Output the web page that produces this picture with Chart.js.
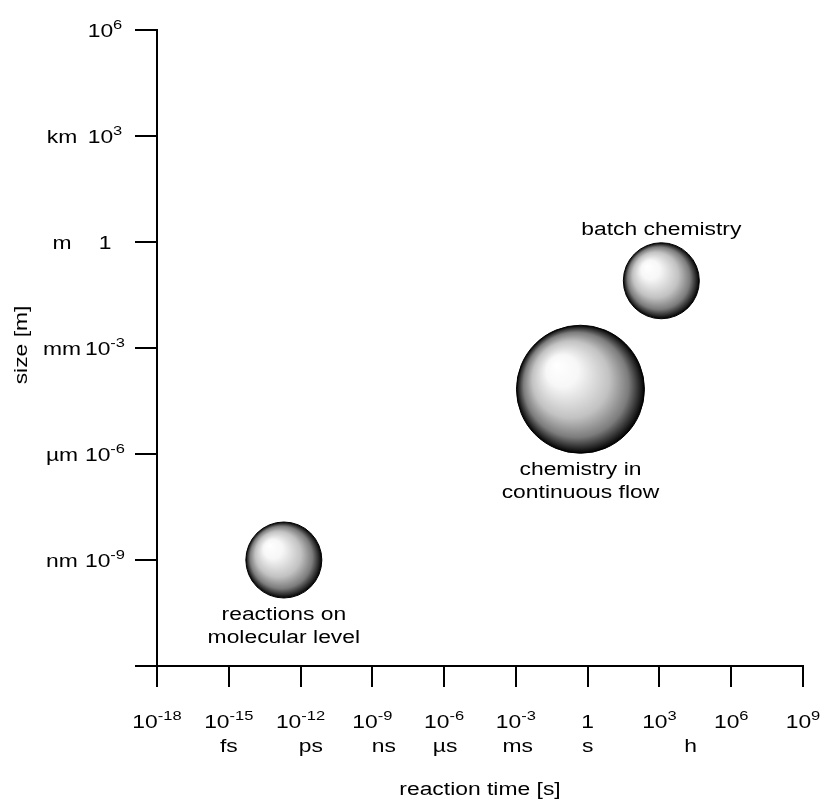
<!DOCTYPE html>
<html>
<head>
<meta charset="utf-8">
<script src="https://cdn.jsdelivr.net/npm/chart.js@4.4.1/dist/chart.umd.min.js"></script>
<style>
  body { margin: 0; background: #fff; }
</style>
</head>
<body>
<canvas id="chart" width="823" height="803"></canvas>
<script>
// axis ticks
const xTickValues = [1e-18, 1e-15, 1e-12, 1e-9, 1e-6, 1e-3, 1, 1e3, 1e6, 1e9];
const xTickLabels = ['10^-18', '10^-15', '10^-12', '10^-9', '10^-6', '10^-3', '1', '10^3', '10^6', '10^9'];
const xUnitValues = [1e-15, 2.7e-12, 3e-9, 1.1e-6, 1.2e-3, 1, 2e4];
const xUnitLabels = ['fs', 'ps', 'ns', 'µs', 'ms', 's', 'h'];
const yTickValues = [1e6, 1e3, 1, 1e-3, 1e-6, 1e-9, 1e-12];
const yTickLabels = ['10^6', '10^3', '1', '10^-3', '10^-6', '10^-9', ''];
const yUnitLabels = ['', 'km', 'm', 'mm', 'µm', 'nm', ''];

// bubbles
const processNames = [['reactions on', 'molecular level'], ['chemistry in', 'continuous flow'], ['batch chemistry']];
const reactionTime = [2e-13, 0.5, 1.2e3];
const size = [1e-9, 6.8e-5, 0.08];
const bubbleRadius = [38, 64, 38];
const labelAbove = [false, false, true];

const FONT = '"Liberation Sans", Arial, sans-serif';
const SX = 1.27; // glyphs in the picture are drawn wide

function textWidth(ctx, s, px) {
    ctx.font = px + 'px ' + FONT;
    return ctx.measureText(s).width * SX;
}

function drawPlain(ctx, s, x, y, px) {
    ctx.save();
    ctx.font = px + 'px ' + FONT;
    ctx.textAlign = 'left';
    ctx.textBaseline = 'alphabetic';
    ctx.translate(x, y);
    ctx.scale(SX, 1);
    ctx.fillText(s, 0, 0);
    ctx.restore();
}

// centred label, with optional superscript after '^'
function drawLabel(ctx, label, cx, baseline) {
    const parts = label.split('^');
    const base = parts[0], sup = parts[1] || '';
    const wb = textWidth(ctx, base, 18);
    const ws = sup ? textWidth(ctx, sup, 13) : 0;
    const x0 = cx - (wb + ws) / 2;
    drawPlain(ctx, base, x0, baseline, 18);
    if (sup) drawPlain(ctx, sup, x0 + wb, baseline - 8, 13);
}

function sphereFill(c) {
    const raw = c.raw;
    if (c.type !== 'data' || !raw) return '#999';
    const chart = c.chart;
    const cx = chart.scales.x.getPixelForValue(raw.x);
    const cy = chart.scales.y.getPixelForValue(raw.y);
    const r = raw.r;
    if (!isFinite(cx) || !isFinite(cy) || !isFinite(r)) return '#999';
    const g = chart.ctx.createRadialGradient(cx - 0.38 * r, cy - 0.38 * r, 0, cx, cy, r);
    g.addColorStop(0, '#ffffff');
    g.addColorStop(0.25, '#f7f7f7');
    g.addColorStop(0.6, '#c2c2c2');
    g.addColorStop(0.82, '#7c7c7c');
    g.addColorStop(0.94, '#2a2a2a');
    g.addColorStop(1, '#000000');
    return g;
}

const textPlugin = {
    id: 'texts',
    afterDraw(chart) {
        const ctx = chart.ctx;
        const xs = chart.scales.x, ys = chart.scales.y;
        const area = chart.chartArea;
        ctx.save();
        ctx.fillStyle = '#000';

        xTickValues.forEach((v, i) => drawLabel(ctx, xTickLabels[i], xs.getPixelForValue(v), area.bottom + 62));
        xUnitValues.forEach((v, i) => drawLabel(ctx, xUnitLabels[i], xs.getPixelForValue(v), area.bottom + 86));

        yTickValues.forEach((v, i) => {
            const py = ys.getPixelForValue(v);
            if (yTickLabels[i]) drawLabel(ctx, yTickLabels[i], 105, py + 7);
            if (yUnitLabels[i]) drawLabel(ctx, yUnitLabels[i], 62, py + 7);
        });

        // axis titles
        drawLabel(ctx, 'reaction time [s]', (area.left + area.right) / 2, 795);
        ctx.save();
        ctx.translate(27, 345);
        ctx.rotate(-Math.PI / 2);
        drawLabel(ctx, 'size [m]', 0, 0);
        ctx.restore();

        // bubble names
        processNames.forEach((lines, i) => {
            const px = xs.getPixelForValue(reactionTime[i]);
            const py = ys.getPixelForValue(size[i]);
            const r = bubbleRadius[i];
            if (labelAbove[i]) {
                lines.forEach((s, k) => drawLabel(ctx, s, px, py - r - 8 - (lines.length - 1 - k) * 23));
            } else {
                lines.forEach((s, k) => drawLabel(ctx, s, px, py + r + 22 + k * 23));
            }
        });
        ctx.restore();
    }
};

new Chart(document.getElementById('chart'), {
    type: 'bubble',
    data: {
        datasets: [{
            data: reactionTime.map((t, i) => ({ x: t, y: size[i], r: bubbleRadius[i] })),
            backgroundColor: sphereFill,
            borderColor: '#000',
            borderWidth: 1
        }]
    },
    options: {
        responsive: false,
        animation: false,
        events: [],
        layout: { autoPadding: false, padding: { top: 30, right: 20, left: 0, bottom: 0 } },
        plugins: {
            legend: { display: false },
            tooltip: { enabled: false }
        },
        scales: {
            x: {
                type: 'logarithmic',
                position: 'bottom',
                min: 1e-18,
                max: 1e9,
                afterBuildTicks: s => { s.ticks = xTickValues.map(v => ({ value: v })); },
                afterFit: s => { s.height = 137; },
                ticks: { display: false },
                grid: { drawOnChartArea: false, drawTicks: true, tickLength: 21, color: '#000', lineWidth: 2 },
                border: { display: true, color: '#000', width: 2 }
            },
            y: {
                type: 'logarithmic',
                position: 'left',
                min: 1e-12,
                max: 1e6,
                afterBuildTicks: s => { s.ticks = yTickValues.map(v => ({ value: v })); },
                afterFit: s => { s.width = 157; },
                ticks: { display: false },
                grid: { drawOnChartArea: false, drawTicks: true, tickLength: 22, color: '#000', lineWidth: 2 },
                border: { display: true, color: '#000', width: 2 }
            }
        }
    },
    plugins: [textPlugin]
});
</script>
</body>
</html>
